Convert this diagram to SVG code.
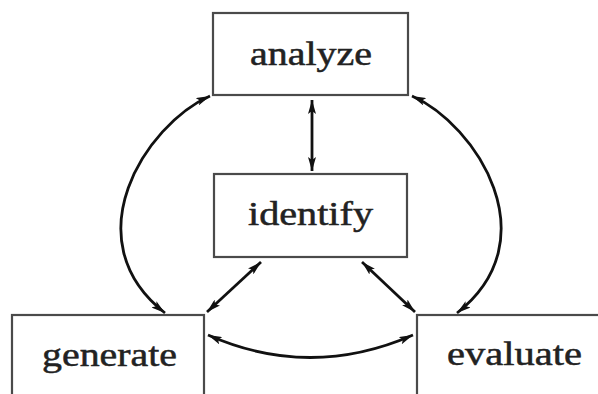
<svg xmlns="http://www.w3.org/2000/svg" width="598" height="394" viewBox="0 0 598 394">
<defs>
<marker id="ah" viewBox="0 0 14 8" refX="14" refY="4" markerWidth="14" markerHeight="8" markerUnits="userSpaceOnUse" orient="auto-start-reverse">
<path d="M0,0 L14,4 L0,8 L3,4 Z" fill="#111"/>
</marker>
<style>
.box{fill:#fff;stroke:#4a4a4a;stroke-width:2.2}
.lbl{font-family:"Liberation Serif","Times New Roman",serif;font-size:33px;fill:#222;stroke:#222;stroke-width:0.5;text-anchor:middle}
.edge{fill:none;stroke:#111;stroke-width:2.8;marker-start:url(#ah);marker-end:url(#ah)}
</style>
</defs>
<rect width="598" height="394" fill="#fff"/>
<g id="analyze">
<rect class="box" x="213" y="13" width="195" height="82"/>
<text class="lbl" x="311" y="65" textLength="122" lengthAdjust="spacingAndGlyphs">analyze</text>
</g>
<g id="identify">
<rect class="box" x="214" y="174" width="193" height="83"/>
<text class="lbl" x="310.5" y="225" textLength="125" lengthAdjust="spacingAndGlyphs">identify</text>
</g>
<g id="generate">
<rect class="box" x="12" y="315" width="192" height="100"/>
<text class="lbl" x="109.5" y="366" textLength="135" lengthAdjust="spacingAndGlyphs">generate</text>
</g>
<g id="evaluate">
<rect class="box" x="417" y="315" width="200" height="100"/>
<text class="lbl" x="514.5" y="365" textLength="135" lengthAdjust="spacingAndGlyphs">evaluate</text>
</g>
<g id="connectors">
<path class="edge" d="M312,100 L312,171"/>
<path class="edge" d="M210,96 C145,125 72,240 165,313"/>
<path class="edge" d="M412,96 C477,125 550,240 457,313"/>
<path class="edge" d="M261,262 L207,312"/>
<path class="edge" d="M362,262 L415,312"/>
<path class="edge" d="M208,335 Q310,380 413,335"/>
</g>
</svg>
